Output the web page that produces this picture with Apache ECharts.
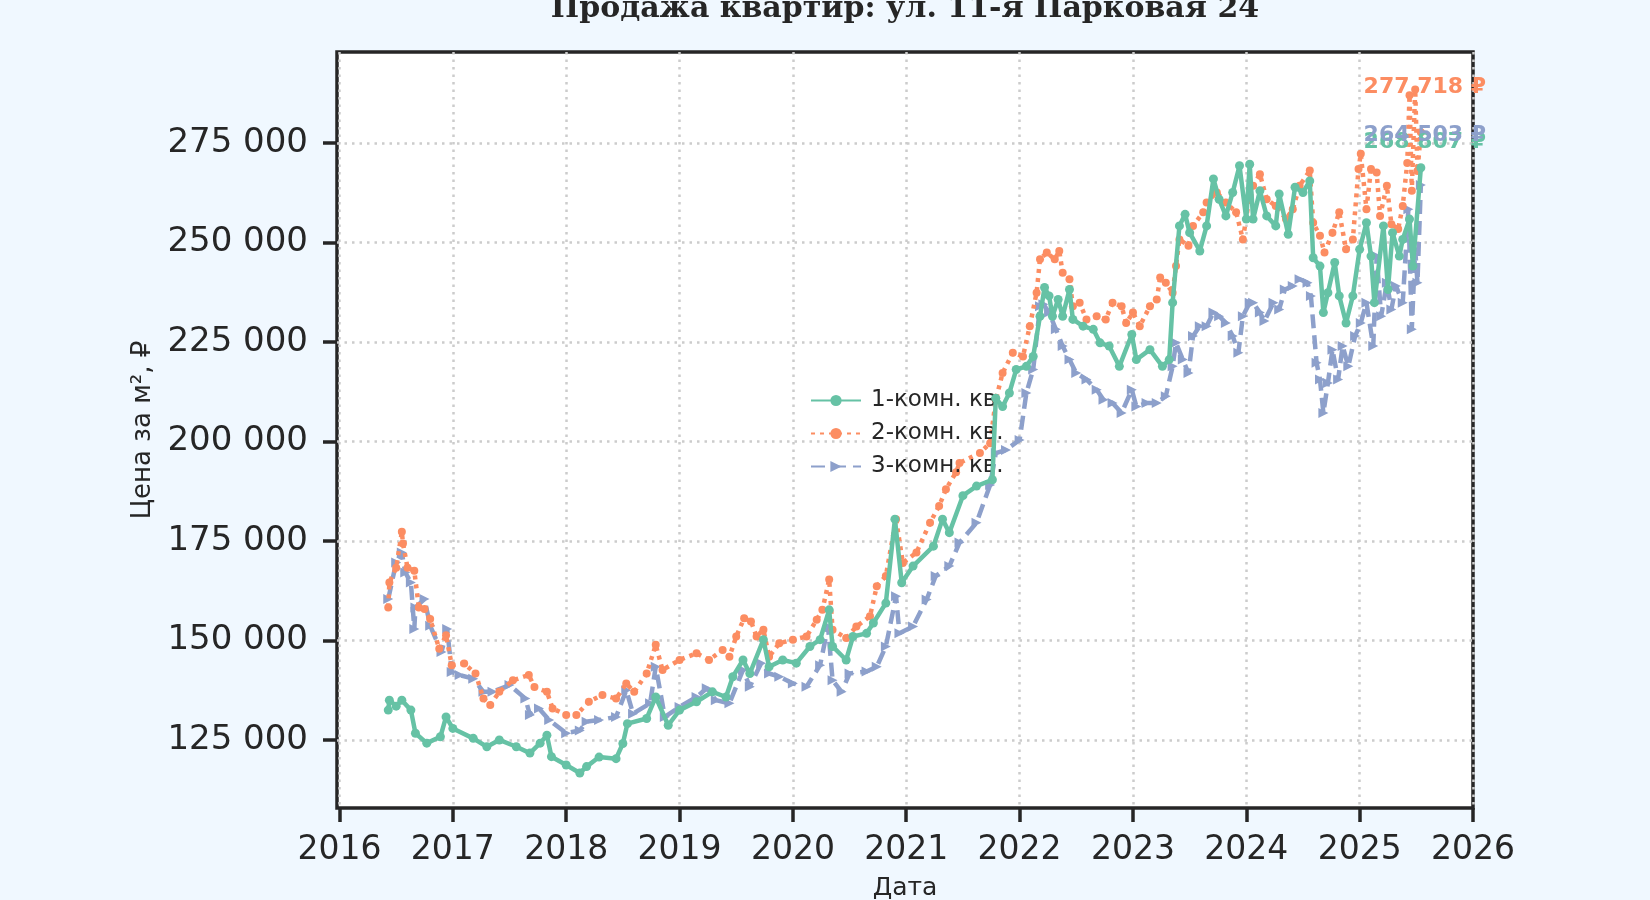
<!DOCTYPE html>
<html>
<head>
<meta charset="utf-8">
<script src="https://cdn.jsdelivr.net/npm/echarts/dist/echarts.min.js"></script>
<style>
  html, body { margin: 0; padding: 0; background: #f0f8ff; }
  #chart { width: 1650px; height: 900px; }
</style>
</head>
<body>
<div id="chart"></div>
<script>
// цены за м², точки [год, руб.]
const oneRoom = [
  [2016.43,132500],[2016.44,135000],[2016.50,133500],[2016.55,135000],[2016.63,132500],
  [2016.67,126700],[2016.77,124200],[2016.89,125800],[2016.94,130800],[2017.00,127900],
  [2017.18,125400],[2017.30,123300],[2017.41,125000],[2017.56,123300],[2017.68,121700],
  [2017.77,124200],[2017.83,126200],[2017.87,120800],[2018.00,118700],[2018.12,116700],
  [2018.18,118300],[2018.29,120700],[2018.44,120300],[2018.50,124100],[2018.54,129100],
  [2018.71,130400],[2018.79,135800],[2018.90,128700],[2019.00,132500],[2019.15,134600],
  [2019.29,137100],[2019.41,135800],[2019.47,140900],[2019.56,145100],[2019.62,141700],
  [2019.74,150200],[2019.79,143400],[2019.91,145100],[2020.03,144300],[2020.15,148500],
  [2020.24,150200],[2020.32,157700],[2020.35,148500],[2020.47,145100],[2020.53,151000],
  [2020.65,151800],[2020.71,154400],[2020.82,159400],[2020.90,180500],[2020.96,164500],
  [2021.06,168700],[2021.24,173700],[2021.32,180500],[2021.38,177100],[2021.50,186400],
  [2021.62,188800],[2021.76,190400],[2021.79,210900],[2021.85,208800],[2021.91,212200],
  [2021.97,218100],[2022.06,218900],[2022.12,221400],[2022.18,231500],[2022.22,238700],
  [2022.26,236600],[2022.29,231500],[2022.34,235700],[2022.38,231500],[2022.44,238200],
  [2022.47,230700],[2022.56,229000],[2022.65,228200],[2022.71,224800],[2022.79,224000],
  [2022.88,218900],[2022.99,226900],[2023.03,220600],[2023.15,223100],[2023.26,218900],
  [2023.32,220600],[2023.35,234900],[2023.41,254200],[2023.46,257100],[2023.50,252500],
  [2023.59,247900],[2023.65,254200],[2023.71,266000],[2023.76,260900],[2023.82,256700],
  [2023.88,262600],[2023.94,269300],[2024.00,255900],[2024.03,269700],[2024.06,255900],
  [2024.12,263000],[2024.18,256700],[2024.26,254200],[2024.29,262200],[2024.37,252100],
  [2024.43,263900],[2024.50,262600],[2024.56,265500],[2024.59,246200],[2024.65,244100],
  [2024.68,232400],[2024.72,237400],[2024.78,245000],[2024.82,236600],[2024.88,229800],
  [2024.94,236600],[2025.00,248300],[2025.06,255000],[2025.10,246600],[2025.13,234900],
  [2025.21,254200],[2025.25,238200],[2025.29,252500],[2025.35,246600],[2025.38,250800],
  [2025.44,255900],[2025.47,244100],[2025.54,268807]
];
const twoRoom = [
  [2016.43,158300],[2016.44,164600],[2016.50,168300],[2016.55,177300],[2016.56,174400],
  [2016.60,168300],[2016.66,167500],[2016.70,158300],[2016.75,157900],[2016.80,155400],
  [2016.88,147900],[2016.94,151300],[2016.99,143800],[2017.10,144200],[2017.20,141700],
  [2017.27,135400],[2017.33,133800],[2017.41,137100],[2017.53,140000],[2017.67,141300],
  [2017.72,138300],[2017.83,137100],[2017.88,132900],[2018.00,131300],[2018.09,131300],
  [2018.20,134600],[2018.32,136300],[2018.44,135400],[2018.53,139200],[2018.60,137100],
  [2018.71,141700],[2018.79,148900],[2018.85,142600],[2019.00,145100],[2019.15,146800],
  [2019.26,145100],[2019.38,147600],[2019.44,145900],[2019.50,151000],[2019.57,155600],
  [2019.63,154800],[2019.68,151000],[2019.74,152700],[2019.79,145900],[2019.88,149300],
  [2020.00,150200],[2020.12,151000],[2020.21,155200],[2020.26,157700],[2020.32,165300],
  [2020.35,152700],[2020.47,150600],[2020.56,153500],[2020.68,156100],[2020.74,163600],
  [2020.82,166200],[2020.91,180500],[2020.97,169500],[2021.09,172100],[2021.21,179600],
  [2021.29,183800],[2021.35,188000],[2021.44,192300],[2021.47,194600],[2021.65,197100],
  [2021.74,199600],[2021.79,210500],[2021.85,217200],[2021.94,222300],[2022.03,221400],
  [2022.09,229000],[2022.15,237400],[2022.18,245800],[2022.24,247500],[2022.31,245800],
  [2022.35,247900],[2022.38,242400],[2022.44,240800],[2022.47,234000],[2022.53,234900],
  [2022.59,230700],[2022.68,231500],[2022.76,230700],[2022.82,234900],[2022.90,234000],
  [2022.94,229800],[2023.00,232400],[2023.06,229000],[2023.15,234000],[2023.21,235700],
  [2023.24,241200],[2023.29,239900],[2023.35,237400],[2023.38,244100],[2023.41,250800],
  [2023.49,249200],[2023.53,254200],[2023.62,257600],[2023.65,260100],[2023.74,262600],
  [2023.82,260100],[2023.91,257600],[2023.97,250800],[2024.03,261800],[2024.06,264300],
  [2024.12,267200],[2024.18,260900],[2024.26,259200],[2024.35,255900],[2024.41,258400],
  [2024.47,264300],[2024.56,268100],[2024.59,255000],[2024.65,251700],[2024.69,247500],
  [2024.76,252500],[2024.82,257600],[2024.88,248300],[2024.94,250800],[2024.99,268500],
  [2025.01,272300],[2025.06,258400],[2025.10,268500],[2025.15,267600],[2025.18,256700],
  [2025.24,264300],[2025.28,254600],[2025.34,253400],[2025.38,259200],[2025.42,270000],
  [2025.44,287000],[2025.46,263000],[2025.49,288500],[2025.51,268000],[2025.54,277718]
];
const threeRoom = [
  [2016.43,160400],[2016.50,169600],[2016.55,172100],[2016.58,167100],[2016.63,164600],
  [2016.66,152900],[2016.67,158300],[2016.75,160400],[2016.80,153700],[2016.90,147100],
  [2016.95,152900],[2016.99,142100],[2017.06,141300],[2017.18,140400],[2017.27,137100],
  [2017.35,137100],[2017.50,138800],[2017.64,135400],[2017.68,131300],[2017.76,132900],
  [2017.85,130000],[2018.00,126700],[2018.12,127400],[2018.18,129600],[2018.29,130000],
  [2018.44,130800],[2018.53,137500],[2018.59,131600],[2018.74,134200],[2018.79,143400],
  [2018.87,130800],[2019.00,133300],[2019.15,135800],[2019.24,138000],[2019.32,135000],
  [2019.44,134200],[2019.56,142600],[2019.62,138400],[2019.72,144300],[2019.79,141700],
  [2019.88,140900],[2020.00,139200],[2020.12,138400],[2020.24,143800],[2020.31,153500],
  [2020.35,140000],[2020.43,137100],[2020.50,141700],[2020.65,142200],[2020.74,143400],
  [2020.82,148500],[2020.91,161100],[2020.94,151800],[2021.06,153500],[2021.18,160300],
  [2021.26,166200],[2021.38,168700],[2021.47,174600],[2021.62,179600],[2021.74,189100],
  [2021.79,197100],[2021.88,197900],[2022.00,200400],[2022.06,212200],[2022.12,218100],
  [2022.18,234000],[2022.21,234500],[2022.26,232400],[2022.32,228200],[2022.38,224000],
  [2022.44,220600],[2022.50,217200],[2022.59,215600],[2022.68,213000],[2022.74,210500],
  [2022.82,209700],[2022.90,207200],[2022.99,213000],[2023.03,208800],[2023.12,209700],
  [2023.21,209700],[2023.29,211400],[2023.35,218900],[2023.38,224800],[2023.44,220600],
  [2023.49,217200],[2023.53,226500],[2023.59,229000],[2023.65,229000],[2023.71,232400],
  [2023.76,231500],[2023.82,229800],[2023.88,226500],[2023.93,222300],[2023.97,231500],
  [2024.03,234900],[2024.06,234900],[2024.12,232400],[2024.16,230300],[2024.24,234900],
  [2024.29,233200],[2024.34,238200],[2024.41,239100],[2024.47,240800],[2024.54,239900],
  [2024.57,236600],[2024.62,219800],[2024.65,215600],[2024.68,207200],[2024.72,214700],
  [2024.76,223100],[2024.81,215600],[2024.85,224000],[2024.90,218900],[2024.96,226500],
  [2025.01,229800],[2025.06,234900],[2025.12,224000],[2025.15,246600],[2025.19,231500],
  [2025.24,239900],[2025.28,233200],[2025.32,239100],[2025.38,234900],[2025.43,258400],
  [2025.46,228200],[2025.49,248300],[2025.51,239900],[2025.54,264503]
];
const seriesNames = ['1-комн. кв.', '2-комн. кв.', '3-комн. кв.'];
const yTicks = [125000, 150000, 175000, 200000, 225000, 250000, 275000];
const xTicks = [2016, 2017, 2018, 2019, 2020, 2021, 2022, 2023, 2024, 2025, 2026];

const ink = '#262626';
const font = 'DejaVu Sans, Noto Sans, sans-serif';

function rub(v) {
  return String(Math.round(v)).replace(/\B(?=(\d{3})+(?!\d))/g, ' ');
}

function lastLabel(data, color, dy) {
  const last = data[data.length - 1];
  return {
    symbol: 'circle',
    symbolSize: 0,
    silent: true,
    data: [{ coord: last, value: last[1] }],
    label: {
      show: true,
      position: 'inside',
      offset: [4, dy],
      formatter: p => rub(p.value) + ' ₽',
      color: color,
      fontFamily: font,
      fontWeight: 'bold',
      fontSize: 22
    }
  };
}

const chart = echarts.init(document.getElementById('chart'));
chart.setOption({
  animation: false,
  backgroundColor: '#f0f8ff',
  title: {
    text: 'Продажа квартир: ул. 11-я Парковая 24',
    left: 905,
    top: -6,
    padding: 0,
    textAlign: 'center',
    textStyle: {
      fontFamily: 'DejaVu Serif, serif',
      fontWeight: 'bold',
      fontSize: 30,
      color: ink
    }
  },
  grid: {
    left: 337, right: 177, top: 52, bottom: 92,
    outerBoundsMode: 'none',
    show: true,
    backgroundColor: '#ffffff',
    borderColor: ink,
    borderWidth: 3.5
  },
  legend: {
    orient: 'vertical',
    left: 805,
    top: 384,
    itemWidth: 50,
    itemHeight: 14,
    itemGap: 10,
    data: seriesNames,
    textStyle: { fontFamily: font, fontSize: 23, color: ink, padding: [0, 0, 0, 5] }
  },
  xAxis: {
    type: 'value',
    min: 2015.978,
    max: 2026,
    minInterval: 1,
    maxInterval: 1,
    name: 'Дата',
    nameLocation: 'middle',
    nameGap: 68,
    nameTextStyle: { fontFamily: font, fontSize: 25, color: ink },
    axisLine: { show: false },
    axisTick: { show: true, length: 14, lineStyle: { color: ink, width: 3.5 }, customValues: xTicks },
    axisLabel: {
      margin: 26,
      fontFamily: font, fontSize: 33, color: ink,
      customValues: xTicks,
      formatter: v => String(Math.round(v))
    },
    splitLine: { show: true, lineStyle: { color: '#cccccc', width: 2.5, type: [2.5, 5] } }
  },
  yAxis: {
    type: 'value',
    min: 107900,
    max: 297900,
    minInterval: 25000,
    maxInterval: 25000,
    name: 'Цена за м², ₽',
    nameLocation: 'middle',
    nameGap: 175,
    nameTextStyle: { fontFamily: font, fontSize: 26, color: ink },
    axisLine: { show: false },
    axisTick: { show: true, length: 14, lineStyle: { color: ink, width: 3.5 }, customValues: yTicks },
    axisLabel: {
      margin: 29,
      fontFamily: font, fontSize: 34, color: ink,
      customValues: yTicks,
      formatter: v => rub(v)
    },
    splitLine: { show: true, lineStyle: { color: '#cccccc', width: 2.5, type: [2.5, 5] } }
  },
  series: [
    {
      name: seriesNames[0],
      type: 'line',
      data: oneRoom,
      color: '#66c2a5',
      symbol: 'circle',
      symbolSize: 9,
      showAllSymbol: true,
      lineStyle: { width: 4.5, type: 'solid' },
      markPoint: lastLabel(oneRoom, '#66c2a5', -25),
      z: 4
    },
    {
      name: seriesNames[1],
      type: 'line',
      data: twoRoom,
      color: '#fc8d62',
      symbol: 'circle',
      symbolSize: 8,
      showAllSymbol: true,
      lineStyle: { width: 4.5, type: [4, 5] },
      markPoint: lastLabel(twoRoom, '#fc8d62', -45),
      z: 3
    },
    {
      name: seriesNames[2],
      type: 'line',
      data: threeRoom,
      color: '#8da0cb',
      symbol: 'triangle',
      symbolRotate: -90,
      symbolSize: 10,
      showAllSymbol: true,
      lineStyle: { width: 4.5, type: [14, 7] },
      markPoint: lastLabel(threeRoom, '#8da0cb', -50),
      z: 2
    }
  ]
});
</script>
</body>
</html>
